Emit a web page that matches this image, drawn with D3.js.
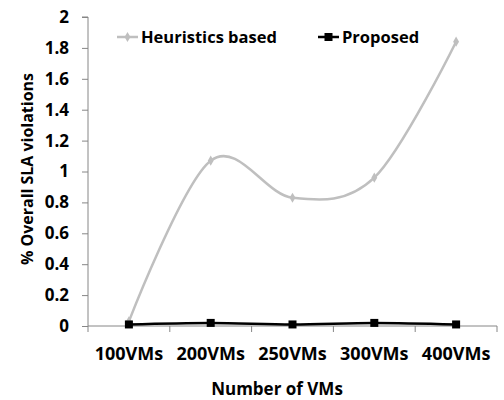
<!DOCTYPE html>
<html><head><meta charset="utf-8">
<script src="https://cdn.jsdelivr.net/npm/d3@7"></script>
<style>body{margin:0;background:#fff}svg{display:block}</style>
</head><body>
<svg id="c" width="504" height="400"></svg>
<script>
const categories = ["100VMs","200VMs","250VMs","300VMs","400VMs"];
const heuristics = [0.03, 1.07, 0.83, 0.96, 1.84];
const proposed = [0.01, 0.02, 0.01, 0.02, 0.01];
const yTicks = [0,0.2,0.4,0.6,0.8,1,1.2,1.4,1.6,1.8,2];
const seriesNames = ["Heuristics based","Proposed"];

const svg = d3.select("#c");
const font = "'Open Sans', sans-serif";
const M = {l:88, r:497, t:17, b:326};
const x = d3.scaleBand().domain(categories).range([M.l, M.r]);
const y = d3.scaleLinear().domain([0,2]).range([M.b, M.t]);
const axisCol = "#868686";

// y axis
const ya = svg.append("g").attr("transform",`translate(${M.l},0)`)
  .call(d3.axisLeft(y).tickValues(yTicks).tickSize(6).tickPadding(13).tickFormat(d=>String(d)));
ya.select(".domain").attr("stroke",axisCol).attr("d",`M-6,${M.t}H0V${M.b}`);
ya.selectAll(".tick line").attr("stroke",axisCol);
ya.selectAll("text").attr("font-family",font).attr("font-weight","bold").attr("font-size",17).attr("fill","#000");

// x axis
const xa = svg.append("g").attr("transform",`translate(0,${M.b})`)
  .call(d3.axisBottom(x).tickSize(0).tickPadding(21));
xa.select(".domain").attr("stroke",axisCol).attr("d",`M${M.l},0H${M.r}`);
xa.selectAll("text").attr("font-family",font).attr("font-weight","bold").attr("font-size",18).attr("fill","#000");
const bounds = categories.map(c=>x(c)).concat([M.r]);
xa.selectAll(".bt").data(bounds).enter().append("line").attr("class","bt")
  .attr("x1",d=>d).attr("x2",d=>d).attr("y1",0).attr("y2",6).attr("stroke",axisCol);

const cx = c => x(c) + x.bandwidth()/2;
const line = d3.line().x((d,i)=>cx(categories[i])).y(d=>y(d)).curve(d3.curveCatmullRom.alpha(0));

// heuristics
svg.append("path").attr("d",line(heuristics)).attr("fill","none").attr("stroke","#bfbfbf").attr("stroke-width",2.5);
svg.selectAll(".hm").data(heuristics).enter().append("path").attr("class","hm")
  .attr("d",d3.symbol(d3.symbolDiamond,30)()).attr("fill","#bfbfbf")
  .attr("transform",(d,i)=>`translate(${cx(categories[i])},${y(d)})`);
// proposed
svg.append("path").attr("d",line(proposed)).attr("fill","none").attr("stroke","#000").attr("stroke-width",2.5);
svg.selectAll(".pm").data(proposed).enter().append("rect").attr("class","pm")
  .attr("x",(d,i)=>cx(categories[i])-4).attr("y",d=>y(d)-4).attr("width",8).attr("height",8).attr("fill","#000");

// legend
const lg = svg.append("g");
const legendItems = [{name:seriesNames[0],x:117,col:"#bfbfbf",sym:"d"},{name:seriesNames[1],x:318,col:"#000",sym:"s"}];
legendItems.forEach(it=>{
  lg.append("line").attr("x1",it.x).attr("x2",it.x+21).attr("y1",37).attr("y2",37).attr("stroke",it.col).attr("stroke-width",2.5);
  if(it.sym==="d") lg.append("path").attr("d",d3.symbol(d3.symbolDiamond,30)()).attr("fill",it.col).attr("transform",`translate(${it.x+10.5},37)`);
  else lg.append("rect").attr("x",it.x+6.5).attr("y",33).attr("width",8).attr("height",8).attr("fill",it.col);
  lg.append("text").attr("x",it.x+24).attr("y",43).text(it.name)
    .attr("font-family",font).attr("font-weight","bold").attr("font-size",16.5);
});

// titles
svg.append("text").attr("x",277).attr("y",395).attr("text-anchor","middle").text("Number of VMs")
  .attr("font-family",font).attr("font-weight","bold").attr("font-size",17);
svg.append("text").attr("transform","translate(33,169) rotate(-90)").attr("text-anchor","middle").text("% Overall SLA violations")
  .attr("font-family",font).attr("font-weight","bold").attr("font-size",16.5)
  .attr("textLength",192).attr("lengthAdjust","spacingAndGlyphs");
</script>
</body></html>
